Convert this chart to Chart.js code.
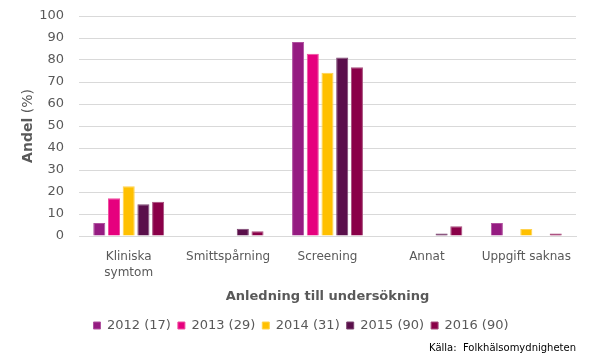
<!DOCTYPE html>
<html>
<head>
<meta charset="utf-8">
<script src="https://cdn.jsdelivr.net/npm/chart.js@4/dist/chart.umd.min.js"></script>
<style>
  html, body { margin: 0; padding: 0; background: #fff; }
  #wrap { width: 590px; height: 354px; position: relative; }
</style>
</head>
<body>
<div id="wrap"><canvas id="chart0"></canvas></div>
<script>
// categories and series (share in percent per year)
const categories = [["Kliniska", "symtom"], "Smittspårning", "Screening", "Annat", "Uppgift saknas"];
const seriesLabels = ["2012 (17)", "2013 (29)", "2014 (31)", "2015 (90)", "2016 (90)"];
const values2012 = [5.9, 0, 88.2, 0, 5.9];
const values2013 = [17.2, 0, 82.8, 0, 0];
const values2014 = [22.6, 0, 74.2, 0, 3.2];
const values2015 = [14.4, 3.3, 81.1, 1.1, 0];
const values2016 = [15.6, 2.2, 76.7, 4.4, 1.1];
const yTicks = [0, 10, 20, 30, 40, 50, 60, 70, 80, 90, 100];

const fills = ["#951b81", "#e6007e", "#ffc000", "#5a0f4b", "#8a0048"];
const edges = ["#b0529f", "#f04d9f", "#ffd24d", "#7d4571", "#a64d7c"];
const allValues = [values2012, values2013, values2014, values2015, values2016];

const FONT = "'DejaVu Sans', Tahoma, sans-serif";
const GREY = "#595959";

// y axis title: "Andel" bold, "(%)" normal
const yTitlePlugin = {
    id: "yTitle",
    afterDraw(chart) {
        const ctx = chart.ctx;
        ctx.save();
        ctx.translate(28, 126);
        ctx.rotate(-Math.PI / 2);
        ctx.fillStyle = GREY;
        ctx.textBaseline = "middle";
        ctx.textAlign = "left";
        const a = "Andel";
        const b = " (%)";
        ctx.font = "bold 14px " + FONT;
        const wa = ctx.measureText(a).width;
        ctx.font = "14px " + FONT;
        const wb = ctx.measureText(b).width;
        const start = -(wa + wb) / 2;
        ctx.font = "bold 14px " + FONT;
        ctx.fillText(a, start, 0);
        ctx.font = "14px " + FONT;
        ctx.fillText(b, start + wa, 0);
        ctx.restore();
    }
};

const ctx = document.getElementById("chart0").getContext("2d");
const chart = new Chart(ctx, {
    type: "bar",
    data: {
        labels: categories,
        datasets: seriesLabels.map((label, i) => ({
            label: label,
            data: allValues[i],
            backgroundColor: fills[i],
            borderColor: edges[i],
            borderWidth: 1,
            borderSkipped: "bottom",
            categoryPercentage: 0.74,
            barPercentage: 0.82,
        })),
    },
    options: {
        responsive: true,
        maintainAspectRatio: false,
        animation: false,
        layout: {
            padding: { left: 26, right: 14, top: 16, bottom: 0 },
        },
        scales: {
            y: {
                min: 0,
                max: 100,
                afterBuildTicks: (scale) => {
                    scale.ticks = yTicks.map(v => ({ value: v }));
                },
                afterFit: (scale) => {
                    scale.width = 53;
                    scale.paddingTop = 0;
                    scale.paddingBottom = 0;
                },
                ticks: {
                    color: GREY,
                    padding: 15,
                    font: { family: FONT, size: 13 },
                },
                grid: {
                    color: "#d9d9d9",
                    lineWidth: 1,
                    drawTicks: false,
                },
                border: { display: false },
            },
            x: {
                afterFit: (scale) => {
                    scale.height = 76;
                },
                ticks: {
                    color: GREY,
                    padding: 12,
                    maxRotation: 0,
                    autoSkip: false,
                    font: { family: FONT, size: 12, lineHeight: 1.4 },
                },
                grid: {
                    display: false,
                    drawTicks: false,
                },
                border: { display: true, color: "#d9d9d9", width: 1 },
                title: {
                    display: true,
                    text: "Anledning till undersökning",
                    color: GREY,
                    font: { family: FONT, size: 13, weight: "bold" },
                    padding: { top: 4, bottom: 8 },
                },
            },
        },
        plugins: {
            legend: {
                position: "bottom",
                labels: {
                    color: GREY,
                    boxWidth: 7,
                    boxHeight: 7,
                    padding: 7,
                    font: { family: FONT, size: 13 },
                },
            },
            subtitle: {
                display: true,
                position: "bottom",
                align: "end",
                text: "Källa:  Folkhälsomydnigheten",
                color: "#000",
                font: { family: FONT, size: 10 },
                padding: { top: 0, bottom: 0 },
            },
            tooltip: { enabled: false },
        },
    },
    plugins: [yTitlePlugin],
});
</script>
</body>
</html>
